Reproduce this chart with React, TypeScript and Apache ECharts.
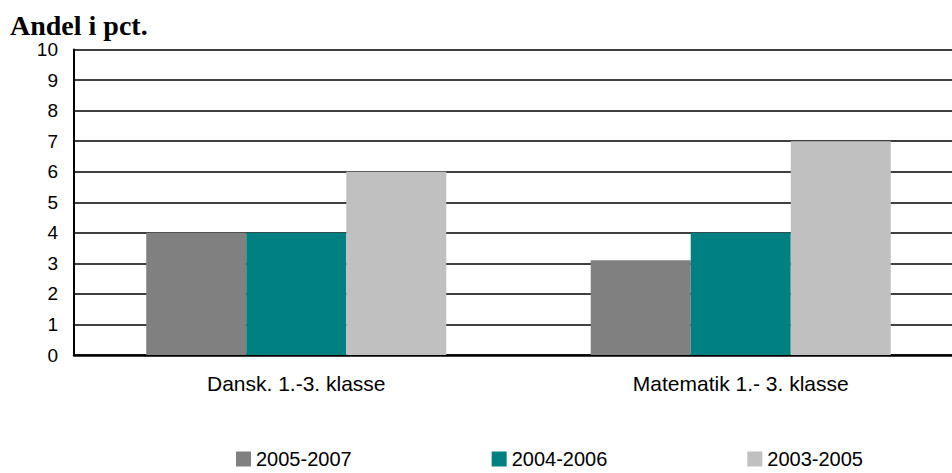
import React, { useEffect, useRef } from "react";
import * as echarts from "echarts";

const categories = ["Dansk. 1.-3. klasse", "Matematik 1.- 3. klasse"];
const seriesNames = ["2005-2007", "2004-2006", "2003-2005"];
const values20052007 = [4, 3.1];
const values20042006 = [4, 4];
const values20032005 = [6, 7];
const seriesColors = ["#808080", "#008080", "#C0C0C0"];
const yMin = 0;
const yMax = 10;
const yInterval = 1;
const titleText = "Andel i pct.";

export default function App() {
  const ref = useRef<HTMLDivElement>(null);
  useEffect(() => {
    document.body.style.margin = "0";
    document.body.style.overflow = "hidden";
    document.documentElement.style.overflow = "hidden";
    if (!ref.current) return;
    const chart = echarts.init(ref.current, null, { renderer: "svg" });
    const seriesValues = [values20052007, values20042006, values20032005];
    chart.setOption({
      animation: false,
      backgroundColor: "#ffffff",
      title: {
        text: titleText,
        left: 10,
        top: 11,
        padding: 0,
        textStyle: {
          fontFamily: "Liberation Serif",
          fontWeight: "bold",
          fontSize: 28,
          color: "#000",
        },
      },
      legend: {
        data: seriesNames,
        left: 236,
        top: 449,
        padding: 0,
        itemWidth: 15,
        itemHeight: 15,
        itemGap: 140,
        icon: "rect",
        textStyle: {
          fontFamily: "Liberation Sans",
          fontSize: 20,
          lineHeight: 20,
          color: "#000",
        },
      },
      grid: {
        left: 74,
        top: 49.5,
        right: 0,
        bottom: 118,
        containLabel: false,
      },
      xAxis: {
        type: "category",
        data: categories,
        axisLine: { show: true, lineStyle: { color: "#000", width: 2.5 } },
        axisTick: { show: false },
        axisLabel: {
          fontFamily: "Liberation Sans",
          fontSize: 21,
          color: "#000",
          margin: 18,
        },
        splitLine: { show: false },
      },
      yAxis: {
        type: "value",
        min: yMin,
        max: yMax,
        interval: yInterval,
        axisLine: { show: true, lineStyle: { color: "#000", width: 2 } },
        axisTick: { show: false },
        axisLabel: {
          fontFamily: "Liberation Sans",
          fontSize: 19,
          color: "#000",
          margin: 16,
        },
        splitLine: { show: true, lineStyle: { color: "#000", width: 1.5 } },
      },
      series: seriesNames.map((name, i) => ({
        name,
        type: "bar",
        data: seriesValues[i],
        barGap: "0%",
        barCategoryGap: "32.5%",
        itemStyle: { color: seriesColors[i] },
      })),
    });
    return () => chart.dispose();
  }, []);
  return (
    <div style={{ width: 952, height: 473, overflow: "hidden" }}>
      <div ref={ref} style={{ width: 963, height: 473 }} />
    </div>
  );
}
